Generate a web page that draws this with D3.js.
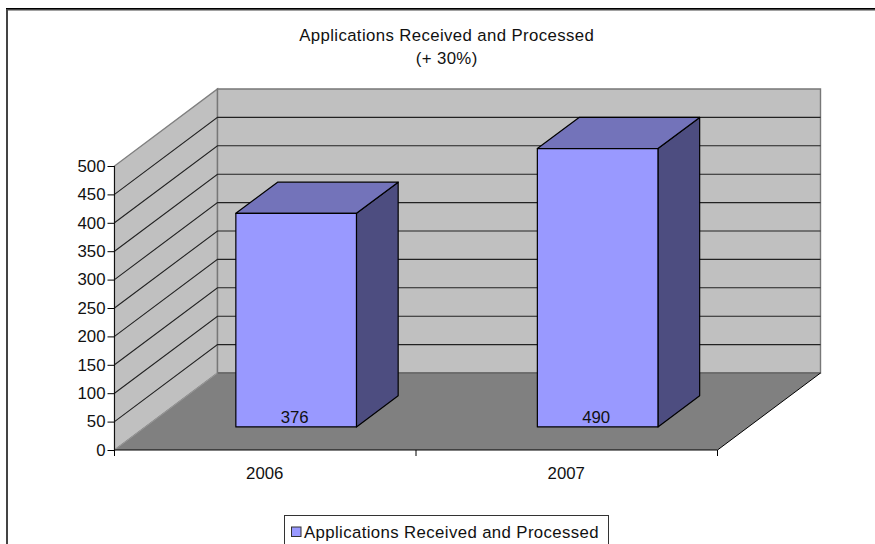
<!DOCTYPE html>
<html><head><meta charset="utf-8">
<script src="https://cdn.jsdelivr.net/npm/d3@7/dist/d3.min.js"></script>
<style>html,body{margin:0;padding:0;background:#fff}svg{display:block}text{font-family:"Liberation Sans",Arial,sans-serif;fill:#111}</style>
</head><body><script>
const categories=["2006","2007"];
const seriesName="Applications Received and Processed";
const values=[376,490];
const yTicks=[0,50,100,150,200,250,300,350,400,450,500];
const titleLines=["Applications Received and Processed","(+ 30%)"];

const W=875,H=544,FS="16.8px",LS="0.38px";
const svg=d3.select("body").append("svg").attr("width",W).attr("height",H);
const y=d3.scaleLinear().domain([0,500]).range([450,166]);
const x=d3.scaleBand().domain(categories).range([114.5,717.5]).paddingInner(0).paddingOuter(0);
// depth: 0 = front edge of floor, 1 = back wall
const dx=d3.scaleLinear().domain([0,1]).range([0,103]);
const dy=d3.scaleLinear().domain([0,1]).range([0,-77]);
const barDepthFront=0.3, barDepthBack=0.705, barWidthFrac=0.4;
const P=pts=>"M"+pts.map(p=>p.join(",")).join("L")+"Z";
const at=(px,py,d)=>[px+dx(d),py+dy(d)];
const x0=x.range()[0],x1=x.range()[1],y0=y(0),yT=y(500);

// frame
svg.append("path").attr("d",`M7,544V9.5H875`).attr("fill","none").attr("stroke","#444").attr("stroke-width",2);
svg.append("line").attr("x1",6).attr("x2",875).attr("y1",8.5).attr("y2",8.5).attr("stroke","#000").attr("stroke-width",1);

// walls
svg.append("path").attr("d",P([[x0,y0],[x0,yT],at(x0,yT,1),at(x0,y0,1)])).attr("fill","#c0c0c0").attr("stroke","#808080").attr("stroke-width",1.4);
svg.append("path").attr("d",P([at(x0,yT,1),at(x1,yT,1),at(x1,y0,1),at(x0,y0,1)])).attr("fill","#c0c0c0").attr("stroke","#777").attr("stroke-width",1.4);
// floor
svg.append("path").attr("d",P([[x0,y0],[x1,y0],at(x1,y0,1),at(x0,y0,1)])).attr("fill","#808080").attr("stroke","none");
svg.append("line").attr("x1",at(x0,y0,1)[0]).attr("y1",at(x0,y0,1)[1]).attr("x2",at(x1,y0,1)[0]).attr("y2",at(x1,y0,1)[1]).attr("stroke","#666").attr("stroke-width",1.4);
svg.append("line").attr("x1",x1).attr("y1",y0).attr("x2",at(x1,y0,1)[0]).attr("y2",at(x1,y0,1)[1]).attr("stroke","#000");
svg.append("line").attr("x1",x0).attr("y1",y0).attr("x2",at(x0,y0,1)[0]).attr("y2",at(x0,y0,1)[1]).attr("stroke","#999");
// gridlines
yTicks.filter(t=>t>0&&t<500).forEach(t=>{
  svg.append("path").attr("d",`M${x0},${y(t)}L${at(x0,y(t),1)}L${at(x1,y(t),1)}`).attr("fill","none").attr("stroke","#222").attr("stroke-width",1.1);
});

// axes
const yAxis=d3.axisLeft(y).tickValues(yTicks).tickSize(7).tickPadding(2).tickFormat(d3.format("d"));
const gy=svg.append("g").attr("transform",`translate(${x0},0)`).call(yAxis);
gy.select(".domain").attr("stroke","#111").attr("d",`M0,${y0}V${yT}`);
gy.selectAll("text").style("font-size",FS).style("font-family",'"Liberation Sans",Arial,sans-serif').attr("fill","#111");
const gx=svg.append("g").attr("transform",`translate(0,${y0})`);
gx.append("line").attr("x1",x0).attr("x2",x1).attr("stroke","#000");
[...categories.map(c=>x(c)),x1].forEach(v=>gx.append("line").attr("x1",v).attr("x2",v).attr("y1",0).attr("y2",6).attr("stroke","#000"));
categories.forEach(c=>gx.append("text").attr("x",x(c)+x.bandwidth()/2-0.5).attr("y",29).attr("text-anchor","middle").style("font-size",FS).text(c));

// bars
categories.forEach((c,i)=>{
  const bw=x.bandwidth()*barWidthFrac, l=x(c)+(x.bandwidth()-bw)/2, r=l+bw;
  const t=y(values[i]);
  const fl=at(l,t,barDepthFront), fr=at(r,t,barDepthFront), bl=at(l,y0,barDepthFront), br=at(r,y0,barDepthFront);
  const tbl=at(l,t,barDepthBack), tbr=at(r,t,barDepthBack), bbr=at(r,y0,barDepthBack);
  const g=svg.append("g").attr("stroke","#000").attr("stroke-width",1.2).attr("stroke-linejoin","round");
  g.append("path").attr("d",P([fr,tbr,bbr,br])).attr("fill","#4d4d80");
  g.append("path").attr("d",P([fl,tbl,tbr,fr])).attr("fill","#7373ba");
  g.append("path").attr("d",P([fl,fr,br,bl])).attr("fill","#9999ff");
  svg.append("text").attr("x",(l+r)/2+dx(barDepthFront)-1.5).attr("y",bl[1]-4).attr("text-anchor","middle").style("font-size",FS).text(values[i]);
});

// title
titleLines.forEach((s,i)=>svg.append("text").attr("x",446.7).attr("y",40.5+i*23.5).attr("text-anchor","middle").style("font-size",FS).style("letter-spacing",LS).text(s));

// legend
const lg=svg.append("g");
lg.append("rect").attr("x",284.5).attr("y",515.5).attr("width",324).attr("height",40).attr("fill","#fff").attr("stroke","#333");
lg.append("rect").attr("x",291.5).attr("y",527).attr("width",9.5).attr("height",9.5).attr("fill","#9999ff").attr("stroke","#333");
lg.append("text").attr("x",304).attr("y",537.7).style("font-size",FS).style("letter-spacing",LS).text(seriesName);
</script></body></html>
